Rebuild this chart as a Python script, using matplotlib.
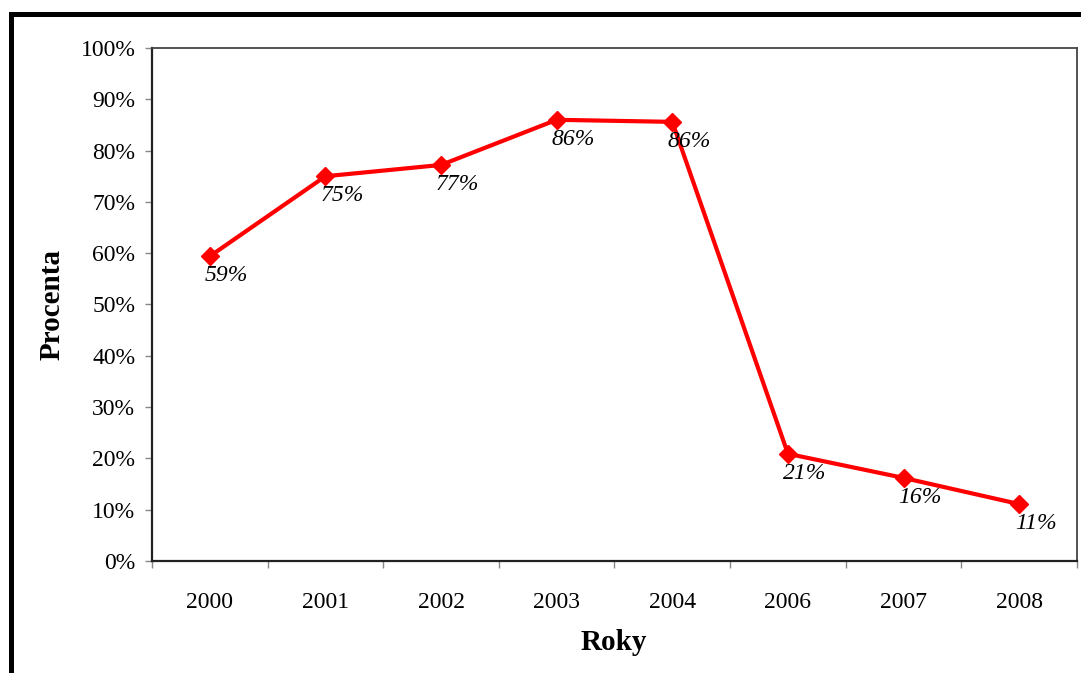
import matplotlib.pyplot as plt
from matplotlib.lines import Line2D
from matplotlib.ticker import FixedLocator, PercentFormatter

# Data
years = ['2000', '2001', '2002', '2003', '2004', '2006', '2007', '2008']
values = [59.4, 75.0, 77.2, 86.0, 85.6, 20.9, 16.2, 11.1]
labels = ['59%', '75%', '77%', '86%', '86%', '21%', '16%', '11%']

plt.rcParams['font.family'] = ['Liberation Serif', 'DejaVu Serif']

fig = plt.figure(figsize=(10.81, 6.73), dpi=100)
ax = fig.add_axes([0.1406, 0.1664, 0.8557, 0.7623])

x = list(range(len(years)))
ax.plot(x, values, color='#ff0000', lw=3, marker='D', markersize=9, zorder=3)

for xi, v, lab in zip(x, values, labels):
    ax.annotate(lab, (xi, v), xytext=(12, -14), textcoords='offset points',
                ha='center', va='center', fontsize=17, style='italic')

ax.set_xlim(-0.5, len(years) - 0.5)
ax.set_ylim(0, 100)
ax.set_yticks(range(0, 101, 10))
ax.yaxis.set_major_formatter(PercentFormatter(decimals=0))

# ticks between categories, labels centred on them
ax.xaxis.set_major_locator(FixedLocator([i - 0.5 for i in range(len(years) + 1)]))
ax.xaxis.set_major_formatter(plt.NullFormatter())
ax.xaxis.set_minor_locator(FixedLocator(x))
ax.set_xticklabels(years, minor=True)

ax.tick_params(axis='y', labelsize=17, length=5, width=1, color='#888888', pad=7)
ax.tick_params(axis='x', which='major', length=5, width=1, color='#888888')
ax.tick_params(axis='x', which='minor', length=0, labelsize=17, pad=22)

for side in ['left', 'bottom']:
    ax.spines[side].set_linewidth(1.6)
    ax.spines[side].set_color('#222222')
for side in ['top', 'right']:
    ax.spines[side].set_linewidth(1.3)
    ax.spines[side].set_color('#444444')

fig.text(52 / 1081, 1 - 305 / 673, 'Procenta', rotation=90, ha='center', va='center',
         fontsize=21, fontweight='bold')
fig.text(614 / 1081, 1 - 642 / 673, 'Roky', ha='center', va='center',
         fontsize=21, fontweight='bold')

# outer frame (only top and left visible)
fig.add_artist(Line2D([10.5 / 1081, 1.0], [1 - 13.5 / 673, 1 - 13.5 / 673],
                      transform=fig.transFigure, color='black', lw=3.6,
                      solid_capstyle='projecting'))
fig.add_artist(Line2D([10.5 / 1081, 10.5 / 1081], [0, 1 - 13.5 / 673],
                      transform=fig.transFigure, color='black', lw=3.6,
                      solid_capstyle='projecting'))

fig.savefig('out.png', dpi=100)
